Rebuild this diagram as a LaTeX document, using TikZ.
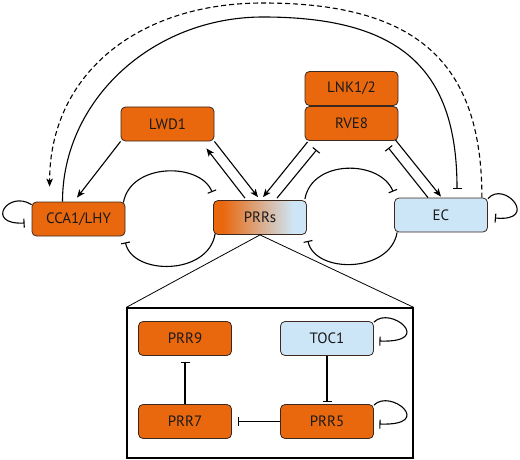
\documentclass[tikz,border=0pt]{standalone}
\usepackage{fontspec}
\setmainfont{PT Sans}
\usetikzlibrary{arrows.meta,calc}
\definecolor{orng}{RGB}{233,104,14}
\definecolor{lblue}{RGB}{205,230,247}
\definecolor{edge}{RGB}{60,40,30}
\pgfdeclarehorizontalshading{prrshade}{100bp}{color(0bp)=(orng); color(30bp)=(orng); color(68bp)=(lblue); color(100bp)=(lblue)}

\begin{document}
\begin{tikzpicture}[x=1pt,y=-1pt,
  gene/.style={draw=edge,line width=0.8pt,rounded corners=4.5pt,fill=orng,minimum width=93pt,minimum height=34pt,inner sep=0pt,font=\fontsize{15}{17}\selectfont,text=black!90},
  lgene/.style={gene,fill=lblue},
  act/.style={line width=1.1pt,-{Stealth[length=8pt,width=6.5pt,inset=2pt]}},
  inh/.style={line width=1.1pt,-{Bar[width=9pt]}}]
\useasboundingbox (0,0) rectangle (520,460);
% main loop
\node[gene] (cca) at (78.5,219) {CCA1/LHY};
\node[gene] (lwd) at (167.5,124) {LWD1};
\node[gene,shade,shading=prrshade] (prrs) at (260,217.5) {PRRs};
\node[gene] (lnk) at (351.5,88.5) {LNK1/2};
\node[gene] (rve) at (351.5,123.5) {RVE8};
\node[lgene] (ec) at (441,215) {EC};
% detail of the PRRs
\node[draw,line width=1.3pt,minimum width=286pt,minimum height=150pt,inner sep=0pt] (detail) at (270,383) {};
\node[gene] (prr9) at (185,338.5) {PRR9};
\node[lgene] (toc) at (327,338.5) {TOC1};
\node[gene] (prr7) at (185,421.5) {PRR7};
\node[gene] (prr5) at (327,421.5) {PRR5};
\coordinate (top1) at (263,17);
\coordinate (top2) at (263,3);

\draw[act] (lwd.south west) -- ($(cca.north)+(-1.5,-4)$);
\draw[act] (lwd.south east) -- ($(prrs.north)+(-2,-3)$);
\draw[act] ($(prrs.north)+(-15,-2)$) -- ($(lwd.south east)+(-8,7)$);
\draw[act] ($(rve.south west)+(3,1)$) -- ($(prrs.north)+(3,-3)$);
\draw[inh] ($(prrs.north)+(17,-2)$) -- ($(rve.south west)+(12,9)$);
\draw[act] ($(rve.south east)+(-3,-1)$) -- ($(ec.north)+(0,-1)$);
\draw[inh] ($(ec.north)+(-13,0)$) -- ($(rve.south east)+(-10,7)$);

% long arcs over the top
\draw[inh] ($(cca.north)+(-16,0)$) .. controls +(0,-101) and +(-111,0) .. (top1)
  .. controls +(136,0) and +(0,-121) .. ($(ec.north)+(16,-9)$);
\draw[act,dash pattern=on 5pt off 3pt] ($(ec.north east)+(-6,0)$) .. controls +(0,-136) and +(153,0) .. (top2)
  .. controls +(-128,0) and +(0,-110) .. ($(cca.north west)+(18,-15)$);

% loops between neighbours
\draw[inh] ($(cca.north east)+(-2,1)$) .. controls +(7,-40) and +(-12,-30) .. ($(prrs.north west)+(-1,-8)$);
\draw[inh] ($(prrs.south west)+(2,-1)$) .. controls +(-7,42) and +(7,33) .. ($(cca.south east)+(0,6)$);
\draw[inh] ($(prrs.north east)+(-2,-1)$) .. controls +(7,-40) and +(-13,-32) .. ($(ec.north west)+(-1,-6)$);
\draw[inh] ($(ec.south west)+(3,0)$) .. controls +(-7,41) and +(7,33) .. ($(prrs.south east)+(1,6)$);

% self loops
\draw[inh] ($(cca.north west)+(0,3)$) .. controls +(-24,-15) and +(-40,2) .. ($(cca.west)+(-7,4)$);
\draw[inh] ($(ec.north east)+(0,1)$) .. controls +(17,-19) and +(45,4) .. ($(ec.east)+(7,3)$);
\draw[inh] ($(toc.north east)+(0,1)$) .. controls +(17,-17) and +(56,2) .. ($(toc.east)+(5.5,2.5)$);
\draw[inh] ($(prr5.north east)+(0,1)$) .. controls +(17,-17) and +(56,2) .. ($(prr5.east)+(5.5,2.5)$);

% zoom into PRRs
\draw[line width=0.8pt] (detail.north west) -- (prrs.south) -- (detail.north east);
\draw[inh] (prr7.north) -- ($(prr9.south)+(0,6)$);
\draw[inh] (toc.south) -- ($(prr5.north)+(0,-2)$);
\draw[inh] (prr5.west) -- ($(prr7.east)+(6,0)$);
\end{tikzpicture}
\end{document}
